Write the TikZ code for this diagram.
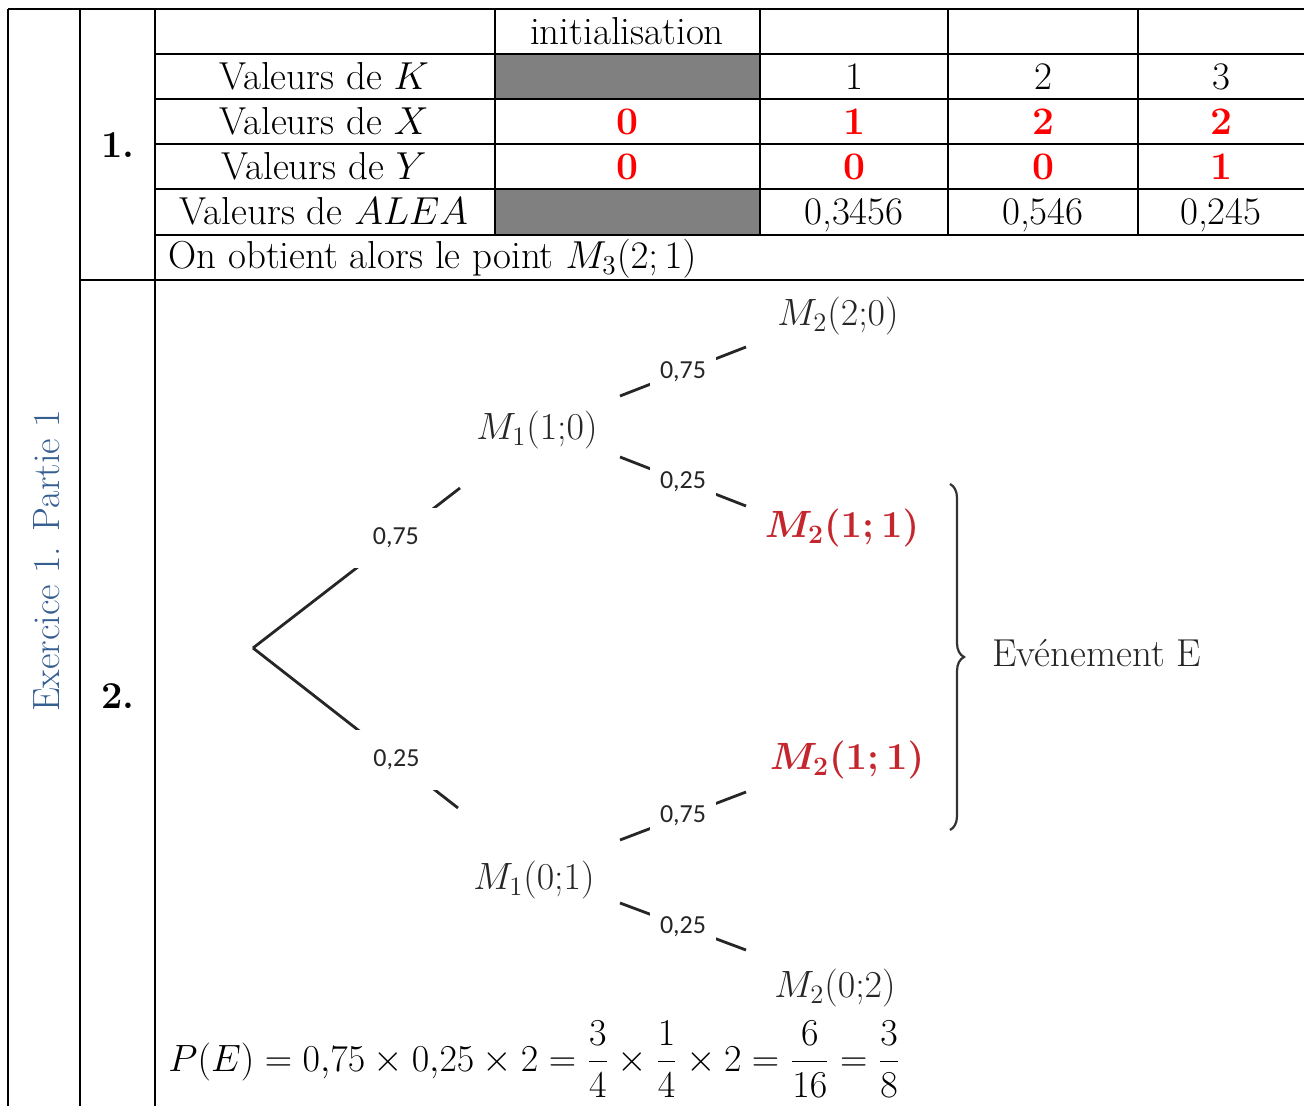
\RequirePackage{fix-cm}
\documentclass[tikz,border=0pt]{standalone}
\usepackage{amsmath}
\usepackage{fontspec}
\usetikzlibrary{calc,decorations.pathreplacing}
\newfontfamily\probfont{Carlito}
\definecolor{headblue}{HTML}{365F91}
\definecolor{tabred}{HTML}{FF0000}
\definecolor{treered}{HTML}{C4262E}
\definecolor{cellgrey}{HTML}{808080}
\definecolor{treetext}{HTML}{262626}

\begin{document}
\begin{tikzpicture}[x=0.5pt,y=-0.5pt,
  gridline/.style={line width=1pt, black},
  txt/.style={font=\fontsize{19.5}{22}\selectfont, inner sep=0pt, anchor=base},
  val/.style={txt, text=tabred, font=\fontsize{19.5}{22}\selectfont\bfseries},
  qnum/.style={txt, font=\fontsize{19}{22}\selectfont\bfseries},
  pointlbl/.style={font=\fontsize{19}{22}\selectfont, text=treetext, inner sep=1pt},
  pointred/.style={pointlbl, text=treered, font=\fontsize{19}{22}\selectfont\boldmath},
  branch/.style={line width=1.4pt, black!85},
  probA/.style={font=\probfont\fontsize{13}{15}\selectfont, text=treetext, fill=white, inner xsep=10pt, inner ysep=10pt},
  probB/.style={probA, inner xsep=5pt, inner ysep=5pt},
  bracket/.style={decorate, decoration={brace, amplitude=7pt}, line width=1.1pt, black!80},
]
\useasboundingbox (0,0) rectangle (1304,1106);
\clip (0,0) rectangle (1304,1106);

% shaded cells
\fill[cellgrey] (495,54) rectangle (760,99);
\fill[cellgrey] (495,189) rectangle (760,235);

% table rules
\draw[gridline] (8,9) -- (1304,9);
\foreach \y in {54,99,144,189,235} \draw[gridline] (155,\y) -- (1304,\y);
\draw[gridline] (80,280) -- (1304,280);
\foreach \x in {8,80,155} \draw[gridline] (\x,9) -- (\x,1106);
\foreach \x in {495,760,948,1138} \draw[gridline] (\x,9) -- (\x,235);

% side title and question numbers
\node[txt, rotate=90, text=headblue, font=\fontsize{19}{22}\selectfont] (title) at (59,561) {Exercice 1. Partie 1};
\node[qnum] (q1) at (118,158) {1.};
\node[qnum] (q2) at (118,708) {2.};

% table contents
\node[txt] (hinit) at (627,45) {initialisation};
\node[txt] (lk) at (324,90) {Valeurs de $K$};
\node[txt] (lx) at (324,135) {Valeurs de $X$};
\node[txt] (ly) at (324,180) {Valeurs de $Y$};
\node[txt] (la) at (324,225) {Valeurs de $ALEA$};

\node[txt] (k1) at (854,90) {1};
\node[txt] (k2) at (1043,90) {2};
\node[txt] (k3) at (1221,90) {3};

\node[val] (x0) at (627,135) {0};
\node[val] (x1) at (854,135) {1};
\node[val] (x2) at (1043,135) {2};
\node[val] (x3) at (1221,135) {2};

\node[val] (y0) at (627,180) {0};
\node[val] (y1) at (854,180) {0};
\node[val] (y2) at (1043,180) {0};
\node[val] (y3) at (1221,180) {1};

\node[txt] (a1) at (854,225) {0,3456};
\node[txt] (a2) at (1043,225) {0,546};
\node[txt] (a3) at (1221,225) {0,245};

\node[txt, anchor=base west] (concl) at (168,269) {On obtient alors le point $M_3(2;1)$};

% probability tree
\coordinate (root) at (253,648);
\node[pointlbl] (m1a) at (537,430) {$M_1(1{;}0)$};
\node[pointlbl] (m1b) at (534,880) {$M_1(0{;}1)$};
\node[pointlbl] (m2a) at (838,316) {$M_2(2{;}0)$};
\node[pointred] (m2b) at (842,528) {$M_2(1;1)$};
\node[pointred] (m2c) at (847,760) {$M_2(1;1)$};
\node[pointlbl] (m2d) at (835,988) {$M_2(0{;}2)$};

\draw[branch] (root) -- node[probA, pos=.69] {0,75} ($(m1a)+(-77,58)$);
\draw[branch] (root) -- node[probA, pos=.70] {0,25} ($(m1b)+(-76,-72)$);
\draw[branch] ($(m1a)+(83,-34)$) -- node[probB] {0,75} ($(m2a)+(-92,31)$);
\draw[branch] ($(m1a)+(83,27)$) -- node[probB] {0,25} ($(m2b)+(-96,-22)$);
\draw[branch] ($(m1b)+(86,-40)$) -- node[probB] {0,75} ($(m2c)+(-101,32)$);
\draw[branch] ($(m1b)+(86,23)$) -- node[probB] {0,25} ($(m2d)+(-89,-38)$);

% event E
\draw[bracket] (950,484) -- (950,830);
\node[font=\fontsize{19.5}{22}\selectfont, text=treetext, anchor=west, inner sep=0pt] (evt) at (992,653) {Evénement E};

% probability of E
\node[txt, anchor=base west, font=\fontsize{19}{22}\selectfont] (pe) at (168,1071) {$\displaystyle P(E)=0{,}75\times0{,}25\times2=\frac{3}{4}\times\frac{1}{4}\times2=\frac{6}{16}=\frac{3}{8}$};
\end{tikzpicture}
\end{document}
